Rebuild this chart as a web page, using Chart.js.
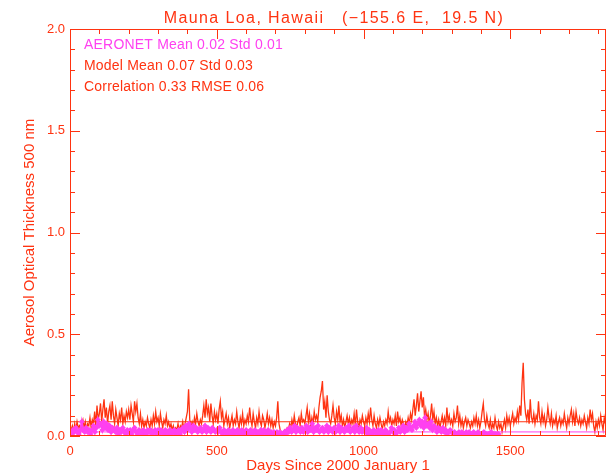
<!DOCTYPE html>
<html>
<head>
<meta charset="utf-8">
<script src="https://cdn.jsdelivr.net/npm/chart.js@4"></script>
<style>
  html, body { margin: 0; padding: 0; background: #ffffff; }
  #wrap { width: 612px; height: 476px; }
</style>
</head>
<body>
<div id="wrap"><canvas id="aod" width="612" height="476"></canvas></div>
<script>
// Mauna Loa daily aerosol optical thickness at 500 nm, model vs AERONET
const TITLE = 'Mauna Loa, Hawaii   (\u2212155.6 E,  19.5 N)';
const STATS = [
  'AERONET Mean 0.02 Std 0.01',
  'Model Mean 0.07 Std 0.03',
  'Correlation 0.33 RMSE 0.06'
];
const DAY_MAX = 1826;
const xTickLabels = [0, 500, 1000, 1500];
const yTickLabels = [0.0, 0.5, 1.0, 1.5, 2.0];

// model AOD, one value every 4 days from day 0
const MODEL_STEP = 4;
const modelAod = [
  0.04,0.03,0.05,0.02,0.06,0.03,0.07,0.04,0.05,0.02,0.06,0.08,0.04,0.07,0.03,0.06,0.05,0.09,0.04,0.08,0.06,0.12,0.05,0.15,0.08,
  0.11,0.16,0.07,0.13,0.18,0.09,0.14,0.06,0.12,0.15,0.08,0.17,0.10,0.06,0.13,0.09,0.05,0.11,0.08,0.14,0.06,0.10,0.07,0.12,0.09,
  0.13,0.08,0.15,0.11,0.07,0.17,0.12,0.16,0.09,0.06,0.11,0.05,0.08,0.04,0.07,0.05,0.09,0.06,0.04,0.08,0.05,0.10,0.06,0.12,0.07,
  0.09,0.05,0.11,0.07,0.04,0.08,0.06,0.10,0.05,0.07,0.04,0.06,0.03,0.05,0.02,0.04,0.03,0.06,0.02,0.05,0.04,0.07,0.03,0.06,0.09,
  0.12,0.23,0.08,0.05,0.07,0.04,0.09,0.06,0.11,0.07,0.05,0.08,0.06,0.10,0.15,0.09,0.18,0.11,0.14,0.07,0.16,0.10,0.06,0.12,0.08,
  0.11,0.06,0.13,0.17,0.09,0.12,0.05,0.08,0.11,0.06,0.09,0.04,0.07,0.10,0.05,0.08,0.06,0.12,0.07,0.04,0.09,0.06,0.11,0.05,0.08,
  0.06,0.10,0.07,0.14,0.08,0.05,0.11,0.07,0.04,0.09,0.06,0.12,0.07,0.05,0.10,0.08,0.04,0.07,0.11,0.06,0.09,0.05,0.08,0.04,0.07,
  0.05,0.09,0.17,0.06,0.03,0.02,0.01,0.02,0.03,0.02,0.04,0.03,0.06,0.04,0.08,0.05,0.10,0.06,0.04,0.07,0.09,0.05,0.11,0.07,0.08,
  0.06,0.10,0.14,0.07,0.11,0.05,0.09,0.06,0.12,0.08,0.10,0.07,0.14,0.19,0.22,0.27,0.13,0.17,0.09,0.20,0.12,0.08,0.06,0.10,0.15,
  0.09,0.06,0.12,0.08,0.15,0.07,0.10,0.05,0.08,0.04,0.07,0.10,0.06,0.09,0.05,0.08,0.06,0.11,0.05,0.13,0.07,0.04,0.08,0.06,0.10,
  0.07,0.05,0.09,0.06,0.11,0.07,0.14,0.08,0.05,0.10,0.06,0.04,0.08,0.05,0.09,0.06,0.03,0.07,0.05,0.08,0.06,0.12,0.07,0.09,0.05,
  0.08,0.06,0.10,0.05,0.12,0.07,0.09,0.05,0.08,0.06,0.04,0.07,0.05,0.09,0.06,0.11,0.08,0.13,0.18,0.10,0.15,0.21,0.12,0.17,0.22,
  0.14,0.19,0.09,0.13,0.08,0.11,0.06,0.10,0.16,0.08,0.12,0.06,0.09,0.05,0.08,0.04,0.07,0.10,0.06,0.09,0.05,0.14,0.07,0.10,0.06,
  0.08,0.05,0.11,0.07,0.09,0.15,0.06,0.10,0.05,0.08,0.04,0.07,0.09,0.05,0.08,0.06,0.04,0.07,0.05,0.09,0.06,0.10,0.05,0.08,0.04,
  0.07,0.12,0.16,0.08,0.05,0.10,0.06,0.04,0.08,0.03,0.06,0.04,0.09,0.05,0.03,0.07,0.04,0.06,0.02,0.05,0.08,0.04,0.10,0.06,0.09,
  0.05,0.08,0.11,0.06,0.09,0.07,0.12,0.08,0.15,0.10,0.26,0.36,0.18,0.11,0.08,0.13,0.06,0.18,0.09,0.07,0.11,0.06,0.10,0.08,0.17,
  0.09,0.06,0.12,0.07,0.10,0.05,0.08,0.14,0.09,0.06,0.11,0.05,0.08,0.06,0.10,0.04,0.07,0.09,0.05,0.08,0.06,0.11,0.07,0.04,0.09,
  0.06,0.10,0.13,0.07,0.11,0.05,0.12,0.08,0.06,0.09,0.05,0.08,0.06,0.10,0.07,0.04,0.09,0.06,0.13,0.08,0.11,0.05,0.02,0.07,0.04,
  0.08,0.05,0.10,0.06,0.03,0.09,0.06
];

// AERONET AOD, one value every 5 days from day 0 (record ends near day 1460)
const AERONET_STEP = 5;
const aeronetAod = [
  0.02,0.01,0.03,0.02,0.04,0.02,0.01,0.03,0.07,0.03,0.02,0.04,0.02,0.03,0.01,0.03,0.05,0.02,0.04,0.08,
  0.05,0.06,0.03,0.07,0.04,0.06,0.03,0.05,0.02,0.04,0.03,0.02,0.04,0.01,0.03,0.02,0.04,0.02,0.01,0.03,
  0.02,0.03,0.01,0.03,0.04,0.02,0.01,0.03,0.02,0.01,0.03,0.02,0.01,0.03,0.02,0.03,0.01,0.02,0.03,0.01,
  0.03,0.01,0.03,0.02,0.01,0.03,0.02,0.01,0.03,0.01,0.02,0.03,0.01,0.02,0.03,0.01,0.03,0.04,0.02,0.05,
  0.03,0.06,0.04,0.02,0.05,0.03,0.04,0.02,0.03,0.04,0.02,0.03,0.05,0.02,0.04,0.03,0.02,0.04,0.03,0.02,
  0.03,0.02,0.04,0.02,0.01,0.03,0.02,0.01,0.03,0.02,0.01,0.03,0.01,0.02,0.03,0.01,0.02,0.03,0.01,0.02,
  0.03,0.01,0.02,0.03,0.01,0.02,0.03,0.01,0.02,0.01,0.03,0.01,0.03,0.02,0.01,0.03,0.01,0.02,0.01,0.02,
  0.01,0.02,0.01,0.02,0.01,0.01,0.02,0.01,0.03,0.02,0.04,0.02,0.03,0.05,0.02,0.04,0.03,0.02,0.04,0.02,
  0.03,0.05,0.02,0.04,0.03,0.06,0.02,0.04,0.03,0.05,0.02,0.03,0.04,0.02,0.03,0.05,0.02,0.04,0.03,0.02,
  0.04,0.02,0.03,0.05,0.02,0.04,0.03,0.02,0.04,0.03,0.05,0.02,0.03,0.04,0.02,0.05,0.03,0.02,0.04,0.02,
  0.03,0.02,0.04,0.01,0.03,0.02,0.01,0.03,0.02,0.01,0.03,0.01,0.03,0.02,0.01,0.03,0.02,0.01,0.02,0.04,
  0.02,0.03,0.01,0.02,0.04,0.02,0.03,0.05,0.02,0.04,0.03,0.06,0.04,0.03,0.05,0.07,0.04,0.06,0.08,0.05,
  0.07,0.04,0.09,0.05,0.06,0.04,0.07,0.03,0.05,0.04,0.02,0.04,0.03,0.02,0.04,0.02,0.03,0.01,0.02,0.03,
  0.02,0.01,0.02,0.01,0.01,0.02,0.01,0.02,0.01,0.01,0.02,0.01,0.02,0.01,0.01,0.02,0.01,0.01,0.02,0.01,
  0.01,0.01,0.02,0.01,0.01,0.01,0.01,0.02,0.01,0.01,0.01,0.01,0.01
];

const MODEL_MEAN = 0.07;
const AERONET_MEAN = 0.02;

const RED = '#ff3311';
const MAGENTA = '#ff40f0';
const FONT = '"Liberation Sans", Arial, sans-serif';

const modelPoints = modelAod.map((v, i) => ({ x: i * MODEL_STEP, y: v }));
const aeronetPoints = aeronetAod.map((v, i) => ({ x: i * AERONET_STEP, y: v }));

// IDL-style frame: box with inward major/minor ticks on all four sides, plus text annotations
const framePlugin = {
  id: 'frame',
  afterDraw(chart) {
    const { ctx, chartArea: a, scales } = chart;
    const xs = scales.x, ys = scales.y;
    ctx.save();
    ctx.strokeStyle = RED;
    ctx.lineWidth = 1;
    ctx.beginPath();
    ctx.rect(a.left + 0.5, a.top + 0.5, a.right - a.left - 1, a.bottom - a.top - 1);
    ctx.stroke();
    ctx.beginPath();
    for (let d = 0; d <= DAY_MAX; d += 100) {
      const px = Math.round(xs.getPixelForValue(d)) + 0.5;
      const len = d % 500 === 0 ? 10 : 5;
      ctx.moveTo(px, a.bottom); ctx.lineTo(px, a.bottom - len);
      ctx.moveTo(px, a.top); ctx.lineTo(px, a.top + len);
    }
    for (let k = 0; k <= 20; k++) {
      const py = Math.round(ys.getPixelForValue(k / 10)) + 0.5;
      const len = k % 5 === 0 ? 10 : 5;
      ctx.moveTo(a.left, py); ctx.lineTo(a.left + len, py);
      ctx.moveTo(a.right, py); ctx.lineTo(a.right - len, py);
    }
    ctx.stroke();

    ctx.textBaseline = 'alphabetic';
    ctx.textAlign = 'center';
    ctx.fillStyle = RED;
    ctx.font = '16px ' + FONT;
    ctx.letterSpacing = '1.4px';
    ctx.fillText(TITLE, (a.left + a.right) / 2 - 4, 23);

    ctx.textAlign = 'left';
    ctx.font = '14px ' + FONT;
    ctx.letterSpacing = '0.2px';
    const colors = [MAGENTA, RED, RED];
    const baselines = [49, 70, 91];
    STATS.forEach((s, i) => {
      ctx.fillStyle = colors[i];
      ctx.fillText(s, a.left + 14, baselines[i]);
    });
    ctx.letterSpacing = '0px';
    ctx.restore();
  }
};

new Chart(document.getElementById('aod'), {
  type: 'line',
  data: {
    datasets: [
      {
        label: 'AERONET',
        data: aeronetPoints,
        showLine: true,
        borderColor: MAGENTA,
        borderWidth: 2,
        pointStyle: 'rectRot',
        pointRadius: 3,
        pointBackgroundColor: MAGENTA,
        pointBorderColor: MAGENTA,
        pointBorderWidth: 0,
        order: 0
      },
      {
        label: 'AERONET mean',
        data: [{ x: 0, y: AERONET_MEAN }, { x: DAY_MAX, y: AERONET_MEAN }],
        borderColor: MAGENTA,
        borderWidth: 1,
        pointRadius: 0,
        order: 1
      },
      {
        label: 'Model mean',
        data: [{ x: 0, y: MODEL_MEAN }, { x: DAY_MAX, y: MODEL_MEAN }],
        borderColor: RED,
        borderWidth: 1,
        pointRadius: 0,
        order: 1
      },
      {
        label: 'Model',
        data: modelPoints,
        borderColor: RED,
        borderWidth: 1.3,
        pointRadius: 0,
        tension: 0,
        order: 2
      }
    ]
  },
  options: {
    responsive: false,
    animation: false,
    events: [],
    layout: { padding: { top: 29, right: 6, left: 0, bottom: 0 } },
    plugins: {
      legend: { display: false },
      tooltip: { enabled: false },
      title: { display: false }
    },
    scales: {
      x: {
        type: 'linear',
        min: 0,
        max: DAY_MAX,
        afterFit(s) { s.height = 40; },
        afterBuildTicks(s) { s.ticks = xTickLabels.map(v => ({ value: v })); },
        grid: { display: false, drawTicks: false },
        border: { display: false },
        ticks: {
          color: RED,
          padding: 8,
          maxRotation: 0,
          font: { family: FONT, size: 13 },
          callback: v => String(v)
        },
        title: {
          display: true,
          text: 'Days Since 2000 January 1',
          color: RED,
          font: { family: FONT, size: 15 },
          padding: { top: 0, bottom: 1 }
        }
      },
      y: {
        type: 'linear',
        min: 0,
        max: 2,
        afterFit(s) { s.width = 70; },
        afterBuildTicks(s) { s.ticks = yTickLabels.map(v => ({ value: v })); },
        grid: { display: false, drawTicks: false },
        border: { display: false },
        ticks: {
          color: RED,
          padding: 5,
          font: { family: FONT, size: 13 },
          callback: v => Number(v).toFixed(1)
        },
        title: {
          display: true,
          text: 'Aerosol Optical Thickness 500 nm',
          color: RED,
          font: { family: FONT, size: 15 },
          padding: { top: 21, bottom: 0 }
        }
      }
    }
  },
  plugins: [framePlugin]
});
</script>
</body>
</html>
